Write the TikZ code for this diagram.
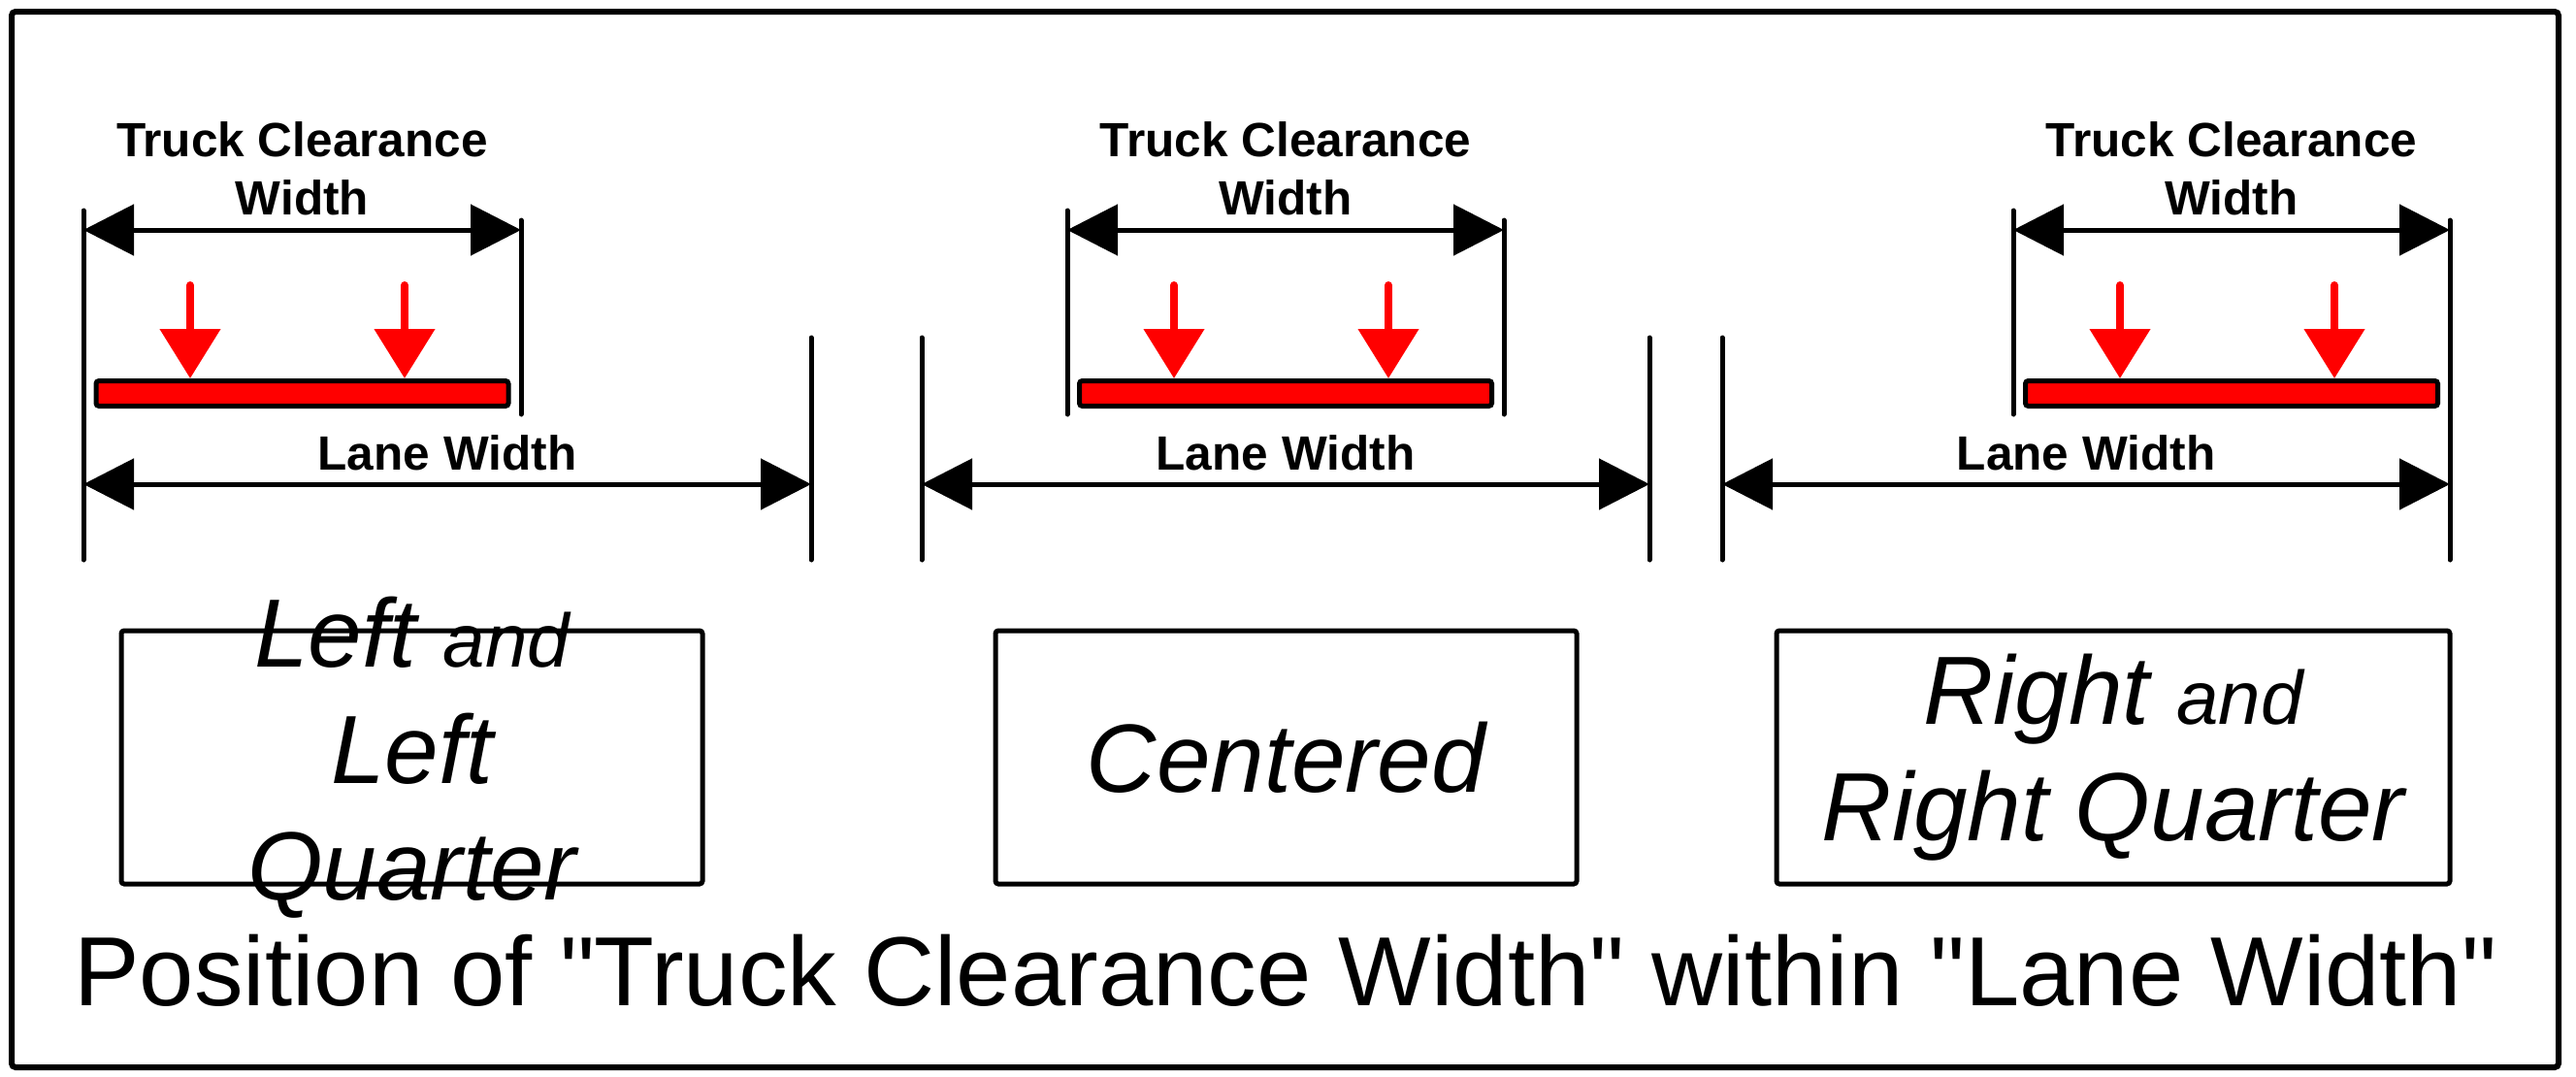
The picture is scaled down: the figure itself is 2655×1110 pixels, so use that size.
\documentclass[tikz,border=0pt]{standalone}
\usepackage{fontspec}
\setmainfont{Liberation Sans}[Ligatures=TeXOff]
\usetikzlibrary{arrows.meta}
\definecolor{ink}{HTML}{000000}
\definecolor{loadred}{HTML}{FF0000}
\newcommand\labfont{\fontsize{14.1pt}{17.07pt}\selectfont\bfseries}
\newcommand\casefont{\fontsize{28.45pt}{34.14pt}\selectfont\itshape}
\newcommand\andfont{\fontsize{22.2pt}{26pt}\selectfont}
\newcommand\titlefont{\fontsize{28.8pt}{34pt}\selectfont}

\begin{document}
\begin{tikzpicture}[
  x=0.1mm, y=-0.1mm,
  >={Triangle[length=5.2mm,width=5.2mm]},
  frame/.style={draw=ink, line width=0.6mm, rounded corners=0.4mm},
  tick/.style={draw=ink, line width=0.5mm, line cap=round},
  dim/.style={<->, draw=ink, line width=0.5mm},
  load/.style={-{Triangle[length=5.1mm,width=6.1mm]}, draw=loadred,
               line width=0.8mm, line cap=round},
  bar/.style={draw=ink, fill=loadred, line width=0.5mm,
              rounded corners=0.3mm, minimum width=42.5mm,
              minimum height=2.6mm, inner sep=0},
  posbox/.style={draw=ink, line width=0.5mm, rounded corners=0.3mm,
                 minimum height=26.1mm, inner sep=0},
  lab/.style={font=\labfont, align=center, inner sep=0, outer sep=0},
  case/.style={font=\casefont, align=center, inner sep=0},
  title/.style={font=\titlefont, inner sep=0},
]
\path[use as bounding box, fill=white] (0,0) rectangle (2655,1110);
\draw[frame] (12,12) rectangle (2637,1100);

% left
\coordinate (lt1) at (86,237);
\coordinate (lt2) at (537,237);
\coordinate (ll1) at (86,499);
\coordinate (ll2) at (836,499);
\draw[tick] (86,217) -- (86,577);
\draw[tick] (537,227) -- (537,427);
\draw[tick] (836,348) -- (836,577);
\draw[dim] (lt1) -- node[lab, above=1.5mm] (ltcw) {Truck Clearance\\ Width} (lt2);
\draw[dim] (ll1) -- node[lab, above=1.4mm] (llane) {Lane Width} (ll2);
\node[bar] (lbar) at (311.5,405.5) {};
\coordinate (la1) at (196,294);
\coordinate (la2) at (417,294);
\draw[load] (la1) -- (la1 |- lbar.north);
\draw[load] (la2) -- (la2 |- lbar.north);

% centre
\coordinate (ct1) at (1100,237);
\coordinate (ct2) at (1550,237);
\coordinate (cl1) at (950,499);
\coordinate (cl2) at (1700,499);
\draw[tick] (1100,217) -- (1100,427);
\draw[tick] (1550,227) -- (1550,427);
\draw[tick] (950,348) -- (950,577);
\draw[tick] (1700,348) -- (1700,577);
\draw[dim] (ct1) -- node[lab, above=1.5mm] (ctcw) {Truck Clearance\\ Width} (ct2);
\draw[dim] (cl1) -- node[lab, above=1.4mm] (clane) {Lane Width} (cl2);
\node[bar] (cbar) at (1325,405.5) {};
\coordinate (ca1) at (1210,294);
\coordinate (ca2) at (1431,294);
\draw[load] (ca1) -- (ca1 |- cbar.north);
\draw[load] (ca2) -- (ca2 |- cbar.north);

% right
\coordinate (rt1) at (2075,237);
\coordinate (rt2) at (2525,237);
\coordinate (rl1) at (1775,499);
\coordinate (rl2) at (2525,499);
\draw[tick] (2075,217) -- (2075,427);
\draw[tick] (2525,227) -- (2525,577);
\draw[tick] (1775,348) -- (1775,577);
\draw[dim] (rt1) -- node[lab, above=1.5mm] (rtcw) {Truck Clearance\\ Width} (rt2);
\draw[dim] (rl1) -- node[lab, above=1.4mm] (rlane) {Lane Width} (rl2);
\node[bar] (rbar) at (2300,405.5) {};
\coordinate (ra1) at (2185,294);
\coordinate (ra2) at (2406,294);
\draw[load] (ra1) -- (ra1 |- rbar.north);
\draw[load] (ra2) -- (ra2 |- rbar.north);

% position boxes
\node[posbox, minimum width=59.9mm] (lbox) at (424.5,780.5) {};
\node[case] (ltxt) at (lbox) {Left {\andfont and}\\ Left\\ Quarter};
\node[posbox, minimum width=59.9mm] (cbox) at (1325.5,780.5) {};
\node[case] (ctxt) at (cbox) {Centered};
\node[posbox, minimum width=69.4mm] (rbox) at (2178,780.5) {};
\node[case] (rtxt) at (rbox) {Right {\andfont and}\\ Right Quarter};

\node[title, anchor=base] (caption) at (1325,1036)
  {Position of "Truck Clearance Width" within "Lane Width"};
\end{tikzpicture}
\end{document}
